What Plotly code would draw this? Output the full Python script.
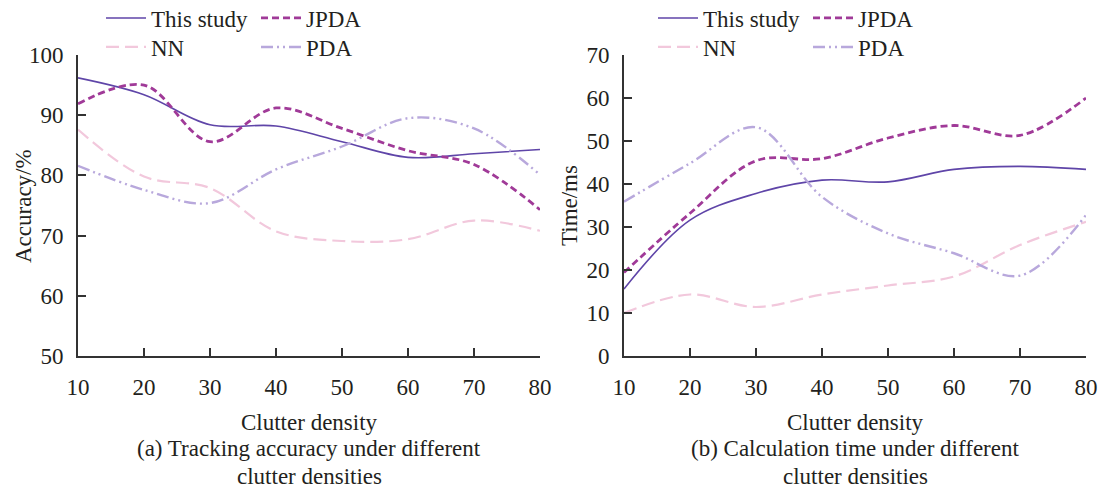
import plotly.graph_objects as go

density = [10, 20, 30, 40, 50, 60, 70, 80]

acc_this = [96.2, 93.4, 88.4, 88.2, 85.6, 83.0, 83.6, 84.3]
acc_jpda = [91.9, 95.0, 85.6, 91.2, 87.8, 84.1, 81.8, 74.3]
acc_nn = [87.6, 79.8, 77.9, 70.7, 69.1, 69.4, 72.5, 70.8]
acc_pda = [81.6, 77.6, 75.4, 81.0, 84.8, 89.5, 87.8, 80.1]

time_this = [15.6, 31.6, 37.8, 40.9, 40.5, 43.4, 44.1, 43.4]
time_jpda = [19.4, 33.2, 45.4, 45.9, 50.7, 53.6, 51.3, 60.0]
time_nn = [10.0, 14.3, 11.4, 14.3, 16.4, 18.5, 25.8, 31.2]
time_pda = [35.9, 44.8, 53.2, 37.0, 28.5, 23.9, 18.7, 32.8]

names = ["This study", "JPDA", "NN", "PDA"]
styles = [
    dict(color="#5f45a8", width=1.6, dash="solid"),
    dict(color="#a03a98", width=2.8, dash="7px,4px"),
    dict(color="#f2c8dc", width=2.2, dash="13px,6px"),
    dict(color="#b8a8dc", width=2.4, dash="12px,4px,2px,4px,2px,4px"),
]

W, H = 1107, 489
FONT = "Liberation Serif"
FS = 23
TXT = "#231f20"
AX = "#333333"

def px(x):
    return x / W

def py(y):
    return 1 - y / H

fig = go.Figure()

left = [acc_this, acc_jpda, acc_nn, acc_pda]
right = [time_this, time_jpda, time_nn, time_pda]

# legend item positions (row/col) in px
leg_x_left = [101, 256, 101, 256]
leg_y = [18, 18, 47, 47]
shift_right = 552

for i, (name, st, ys) in enumerate(zip(names, styles, left)):
    fig.add_trace(go.Scatter(
        x=density, y=ys, name=name, mode="lines",
        line=dict(shape="spline", smoothing=1.0, **st),
        xaxis="x", yaxis="y", legend="legend" if i == 0 else f"legend{i+1}",
    ))
for i, (name, st, ys) in enumerate(zip(names, styles, right)):
    fig.add_trace(go.Scatter(
        x=density, y=ys, name=name, mode="lines",
        line=dict(shape="spline", smoothing=1.0, **st),
        xaxis="x2", yaxis="y2", legend=f"legend{i+5}",
    ))

legends = {}
for i in range(8):
    key = "legend" if i == 0 else f"legend{i+1}"
    lx = leg_x_left[i % 4] + (shift_right if i >= 4 else 0)
    ly = leg_y[i % 4]
    legends[key] = dict(
        x=px(lx), y=py(ly), xanchor="left", yanchor="middle",
        orientation="h", itemwidth=40, bgcolor="rgba(0,0,0,0)",
        font=dict(family=FONT, size=FS, color=TXT),
        borderwidth=0, itemclick=False, itemdoubleclick=False,
    )

axis_common = dict(
    showline=True, linecolor=AX, linewidth=1.6,
    ticks="inside", ticklen=8, tickwidth=1.5, tickcolor=AX,
    showgrid=False, zeroline=False,
    tickfont=dict(family=FONT, size=FS, color=TXT),
)

fig.update_layout(
    width=W, height=H,
    margin=dict(l=0, r=0, t=0, b=0, autoexpand=False),
    paper_bgcolor="white", plot_bgcolor="white",
    showlegend=True,
    xaxis=dict(domain=[px(78), px(540)], range=[10, 80], tickvals=density,
               anchor="y", ticklabelstandoff=10, **axis_common),
    yaxis=dict(domain=[py(356), py(55)], range=[50, 100], tickvals=[50, 60, 70, 80, 90, 100],
               anchor="x", ticklabelstandoff=8, **axis_common),
    xaxis2=dict(domain=[px(624), px(1086)], range=[10, 80], tickvals=density,
                anchor="y2", ticklabelstandoff=10, **axis_common),
    yaxis2=dict(domain=[py(356), py(55)], range=[0, 70], tickvals=[0, 10, 20, 30, 40, 50, 60, 70],
                anchor="x2", ticklabelstandoff=8, **axis_common),
    **legends,
)

def ann(text, x, y, angle=0):
    fig.add_annotation(text=text, x=px(x), y=py(y), xref="paper", yref="paper",
                       showarrow=False, textangle=angle, xanchor="center", yanchor="middle",
                       font=dict(family=FONT, size=FS, color=TXT))

ann("Accuracy/%", 24, 206, -90)
ann("Time/ms", 570, 206, -90)
ann("Clutter density", 309, 422)
ann("Clutter density", 855, 422)
ann("(a) Tracking accuracy under different", 309, 448)
ann("clutter densities", 309, 476)
ann("(b) Calculation time under different", 855, 448)
ann("clutter densities", 855, 476)

fig.write_html("out.html")
